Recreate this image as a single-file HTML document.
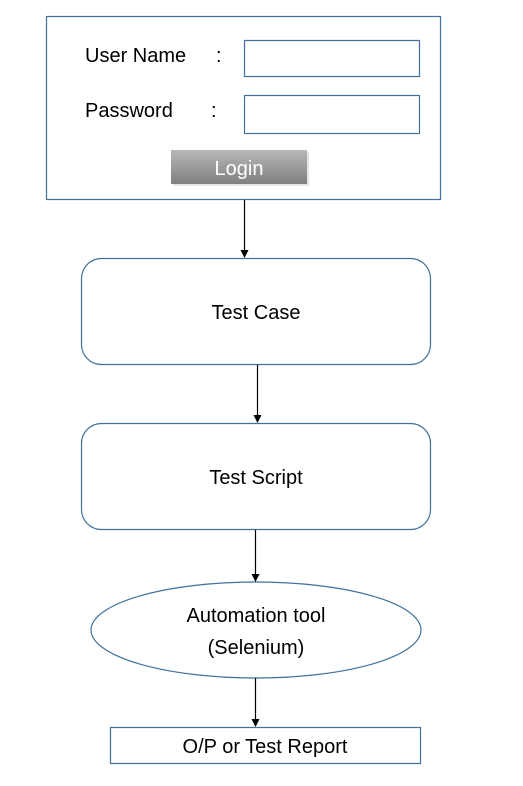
<!DOCTYPE html>
<html><head><style>body{margin:0;background:#fff}svg{display:block}text{font-family:"Liberation Sans",sans-serif;fill:#000}</style></head>
<body>
<svg width="523" height="786" viewBox="0 0 523 786" xmlns="http://www.w3.org/2000/svg">
<defs>
<linearGradient id="g" x1="0" y1="0" x2="0" y2="1"><stop offset="0" stop-color="#b8b8b8"/><stop offset="1" stop-color="#7f7f7f"/></linearGradient>
</defs>
<g fill="#fff" stroke="#41719c" stroke-width="1.2">
<rect x="46.5" y="16.5" width="394" height="183"/>
<rect x="244.5" y="40.5" width="175" height="36"/>
<rect x="244.5" y="95.5" width="175" height="38"/>
<rect x="81.5" y="258.5" width="349" height="106" rx="20"/>
<rect x="81.5" y="423.5" width="349" height="106" rx="20"/>
<ellipse cx="256" cy="630" rx="165" ry="48"/>
<rect x="110.5" y="727.5" width="310" height="36"/>
</g>
<rect x="173" y="152" width="136" height="34" fill="#ccc" opacity="0.5"/>
<rect x="171" y="150" width="136" height="34" fill="url(#g)"/>
<text x="85" y="62" font-size="20">User Name</text>
<text x="216" y="62" font-size="20">:</text>
<text x="85" y="117" font-size="20">Password</text>
<text x="211" y="117" font-size="20">:</text>
<text x="239" y="175" font-size="20" text-anchor="middle" style="fill:#fff">Login</text>
<text x="256" y="319" font-size="20" text-anchor="middle">Test Case</text>
<text x="256" y="484" font-size="20" text-anchor="middle">Test Script</text>
<text x="256" y="622" font-size="20" text-anchor="middle">Automation tool</text>
<text x="256" y="654" font-size="20" text-anchor="middle">(Selenium)</text>
<text x="265" y="753" font-size="20" text-anchor="middle">O/P or Test Report</text>
<g stroke="#000" stroke-width="1.2">
<line x1="244.5" y1="200" x2="244.5" y2="251"/>
<line x1="257.5" y1="365" x2="257.5" y2="416"/>
<line x1="255.5" y1="530" x2="255.5" y2="575"/>
<line x1="255.5" y1="678" x2="255.5" y2="720"/>
</g>
<g fill="#000">
<path d="M240.5,250 L248.5,250 L244.5,258 z"/>
<path d="M253.5,415 L261.5,415 L257.5,423 z"/>
<path d="M251.5,574 L259.5,574 L255.5,582 z"/>
<path d="M251.5,719 L259.5,719 L255.5,727 z"/>
</g>
</svg>
</body></html>
